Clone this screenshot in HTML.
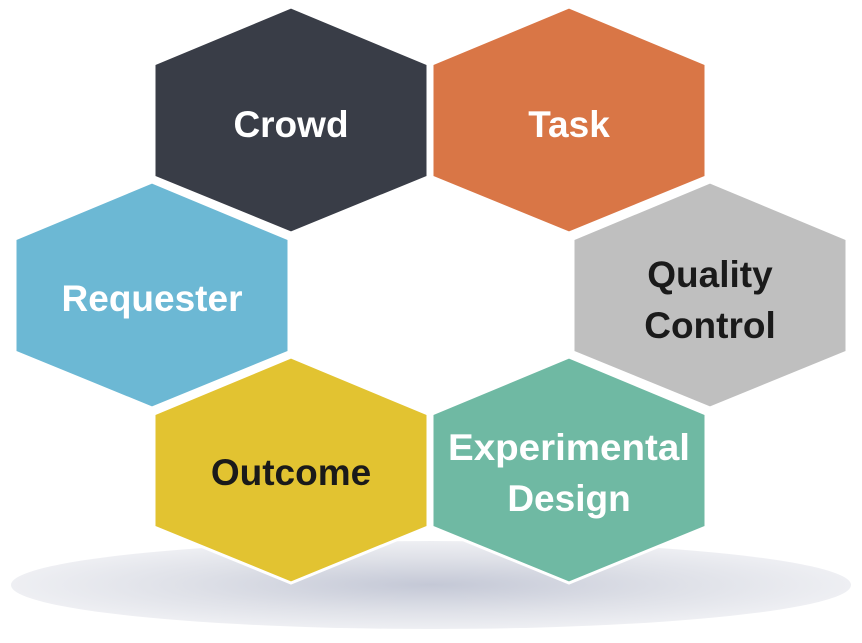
<!DOCTYPE html>
<html><head><style>body{margin:0;background:#fff}svg{display:block}</style></head><body>
<svg width="862" height="643" viewBox="0 0 862 643" xmlns="http://www.w3.org/2000/svg">
<defs>
<radialGradient id="g" cx="0.5" cy="0.5" r="0.5">
<stop offset="0" stop-color="#c4c8d6"/><stop offset="0.6" stop-color="#dfe1e8"/><stop offset="1" stop-color="#eeeff3"/>
</radialGradient>
<polygon id="h" points="0,0 137,57 137,170 0,226 -137,170 -137,57"/>
</defs>
<ellipse cx="431" cy="585" rx="420" ry="44" fill="url(#g)"/>
<g stroke="#fff" stroke-width="3">
<use href="#h" x="291" y="7" fill="#393d47"/>
<use href="#h" x="569" y="7" fill="#d97646"/>
<use href="#h" x="152" y="182" fill="#6cb8d4"/>
<use href="#h" x="710" y="182" fill="#bfbfbf"/>
<use href="#h" x="291" y="357" fill="#e2c331"/>
<use href="#h" x="569" y="357" fill="#6fb9a3"/>
</g>
<g font-family="Liberation Sans, sans-serif" font-weight="bold" font-size="37" text-anchor="middle">
<text x="291" y="137" fill="#fff">Crowd</text>
<text x="569" y="137" fill="#fff">Task</text>
<text x="152" y="311" fill="#fff">Requester</text>
<text x="710" y="287" fill="#1a1a1a">Quality</text>
<text x="710" y="338" fill="#1a1a1a">Control</text>
<text x="291" y="485" fill="#1a1a1a">Outcome</text>
<text x="569" y="460" fill="#fff" textLength="242" lengthAdjust="spacingAndGlyphs">Experimental</text>
<text x="569" y="511" fill="#fff">Design</text>
</g>
</svg>
</body></html>
